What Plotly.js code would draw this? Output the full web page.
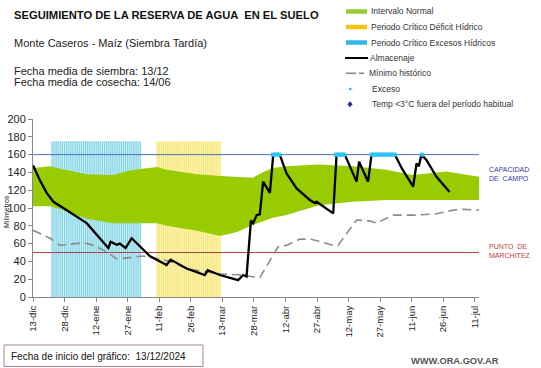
<!DOCTYPE html>
<html><head><meta charset="utf-8">
<script src="https://cdn.plot.ly/plotly-3.0.1.min.js"></script>
<style>html,body{margin:0;padding:0;background:#fff}#chart{width:541px;height:368px}</style>
</head><body><div id="chart"></div>
<script>
// ---------- DATA ----------
const startDate = '2024-12-13';
const endDate = '2025-07-13';
const tickLabels = ['13-dic','28-dic','12-ene','27-ene','11-feb','26-feb','13-mar','28-mar','12-abr','27-abr','12-may','27-may','11-jun','26-jun','11-jul'];

// Intervalo normal (days since start)
const bandDays  = [0, 8, 14, 25.5, 38, 46, 52, 59, 63.5, 78, 89, 97, 104.5, 109, 114, 120.5, 136, 152, 168, 180.5, 196.5, 212];
const bandUpper = [145, 147, 143.5, 138, 137, 142, 144, 146, 143, 138, 136, 135, 134, 140, 145, 147, 149, 147, 143, 137, 141, 135];
const bandLower = [102, 102, 98, 88, 83, 83, 83, 83, 80, 74.5, 68.5, 73, 81, 85, 89, 92, 103, 107, 109, 109, 109, 109];

// Almacenaje
const almDays = [0, 1.5, 3.3, 6.5, 9.7, 14.4, 20, 25.5, 35.8, 36.9, 39.8, 41.3, 44, 46.9, 50.8, 55.5, 63.5, 65.4, 73, 81.7, 83, 88.8, 97.5, 99.9, 101.5, 103.6, 104.7, 106.3, 107.8, 109.4, 112.6, 114.2, 117.3, 120.5, 125.3, 131.6, 134, 134.8, 142.7, 144.3, 148.2, 153.8, 155, 159.3, 160.9, 172, 175.2, 180.7, 182.3, 183.4, 184.6, 187, 191.8, 198];
const almVals = [148, 140, 131, 117, 107, 100, 91, 83, 55, 62, 58.6, 60, 55, 66, 57, 46, 36, 42, 32, 24.7, 30, 24.7, 19, 24.7, 23, 86, 83, 92, 93, 129.6, 117, 160, 160, 139, 122, 109, 105.6, 107, 94, 160, 160, 129.6, 152, 129.6, 160, 160, 145, 124, 150, 147, 160, 154, 135, 118];

// Mínimo histórico
const minDays = [0, 8.1, 12.8, 19.2, 23.9, 28.7, 33.4, 39.8, 46.1, 52.4, 57.2, 65.1, 73, 80.9, 88.8, 97.5, 107.8, 116.5, 120.5, 126.8, 131.6, 136.3, 142.7, 145, 153.8, 160.1, 163.3, 171.2, 182.3, 191.8, 199.7, 204.4, 212];
const minVals = [75, 66, 58, 60, 61, 58, 53, 42.7, 44, 46, 44, 40, 32, 28.5, 26, 25, 21.7, 56.5, 58, 65, 65, 62.5, 58, 58, 86.5, 85.5, 83, 92, 92, 93.6, 97.6, 98.5, 97.6];

// Exceso
const excDays = [114, 115, 116, 117, 144, 145, 146, 147, 148, 161, 162, 163, 164, 165, 166, 167, 168, 169, 170, 171, 172, 185];
const excVals = [160, 160, 160, 160, 160, 160, 160, 160, 160, 160, 160, 160, 160, 160, 160, 160, 160, 160, 160, 160, 160, 160];

// Periodos críticos (first and last day, days since start) and bar height
const critExcFirst = 9, critExcLast = 51;
const critDefFirst = 59, critDefLast = 89;
const critHeight = 175;

// Umbrales
const capacidadCampo = 160;
const puntoMarchitez = 50;

// ---------- HELPERS ----------
const DAY = 86400000;
const t0 = Date.UTC(2024, 11, 13);
function d2s(d) { return new Date(t0 + d * DAY).toISOString().slice(0, 19).replace('T', ' '); }
const toDates = a => a.map(d2s);
const tickVals = tickLabels.map((_, i) => d2s(i * 15));
function periodDays(a, b) { const r = []; for (let d = a; d <= b; d++) r.push(d); return r; }
const excPeriod = periodDays(critExcFirst, critExcLast);
const defPeriod = periodDays(critDefFirst, critDefLast);
// pixel -> paper (plot area: x 33..479, y 119..297)
const L = 33, R = 479, T = 119, B = 297;
const px = x => (x - L) / (R - L);
const py = y => (B - y) / (B - T);
const FONT = 'Liberation Sans, Arial, sans-serif';

function periodTraces(days, bg, fg) {
  return [
    {type: 'bar', x: [d2s((days[0] + days[days.length - 1]) / 2)], y: [critHeight],
     width: [(days.length - 0.4) * DAY], marker: {color: bg, line: {width: 0}}, showlegend: false},
    {type: 'bar', x: toDates(days), y: days.map(() => critHeight), width: DAY * 0.55,
     marker: {color: fg, line: {width: 0}}, showlegend: false}
  ];
}

// ---------- TRACES ----------
const traces = [
  {x: toDates(bandDays), y: bandLower, mode: 'lines', line: {width: 0, color: '#99cc00'}, hoverinfo: 'skip', showlegend: false},
  {x: toDates(bandDays), y: bandUpper, mode: 'lines', line: {width: 0, color: '#99cc00'}, fill: 'tonexty', fillcolor: '#99cc00', hoverinfo: 'skip', showlegend: false},
  ...periodTraces(excPeriod, 'rgba(90,200,225,0.25)', 'rgba(40,185,215,0.5)'),
  ...periodTraces(defPeriod, 'rgba(245,225,60,0.3)', 'rgba(240,210,0,0.42)'),
  {x: [startDate, endDate], y: [capacidadCampo, capacidadCampo], mode: 'lines', line: {color: '#4f6fb8', width: 1}, showlegend: false},
  {x: [startDate, endDate], y: [puntoMarchitez, puntoMarchitez], mode: 'lines', line: {color: '#b04444', width: 1}, showlegend: false},
  {x: toDates(minDays), y: minVals, mode: 'lines', line: {color: '#8c8c8c', width: 1.6, dash: '9px,5px'}, showlegend: false},
  {x: toDates(almDays), y: almVals, mode: 'lines', line: {color: '#000', width: 2.3}, showlegend: false},
  {x: toDates(excDays), y: excVals, mode: 'markers', marker: {color: '#2ec5ee', size: 4, symbol: 'square'}, showlegend: false}
];

// ---------- LAYOUT ----------
const ann = [];
const shp = [];
function txt(x, y, text, size, color, opts) {
  ann.push(Object.assign({xref: 'paper', yref: 'paper', x: px(x), y: py(y), text: text, showarrow: false,
    xanchor: 'left', yanchor: 'middle', font: {family: FONT, size: size, color: color}}, opts || {}));
}
txt(12, 15, '<b>SEGUIMIENTO DE LA RESERVA DE AGUA  EN EL SUELO</b>', 11.2, '#111');
txt(12, 43, 'Monte Caseros - Maíz (Siembra Tardía)', 11, '#222');
txt(12, 71, 'Fecha media de siembra: 13/12', 11, '#222');
txt(12, 82, 'Fecha media de cosecha: 14/06', 11, '#222');

// legend
const legItems = [
  {y: 11.5, label: 'Intervalo Normal', kind: 'bar', color: '#99cc33'},
  {y: 27, label: 'Periodo Crítico Déficit Hídrico', kind: 'bar', color: '#f7c40f'},
  {y: 42.5, label: 'Periodo Crítico Excesos Hídricos', kind: 'bar', color: '#2fb6e8'},
  {y: 58, label: 'Almacenaje', kind: 'line'},
  {y: 73.3, label: 'Mínimo histórico', kind: 'dash'},
  {y: 89, label: 'Exceso', kind: 'dot'},
  {y: 104.3, label: 'Temp <3°C fuera del período habitual', kind: 'diamond'}
];
legItems.forEach(it => {
  let tx = 369;
  if (it.kind === 'bar') {
    shp.push({type: 'line', xref: 'paper', yref: 'paper', x0: px(346), x1: px(367), y0: py(it.y), y1: py(it.y), line: {color: it.color, width: 4.5}});
  } else if (it.kind === 'line') {
    shp.push({type: 'line', xref: 'paper', yref: 'paper', x0: px(345), x1: px(368), y0: py(it.y), y1: py(it.y), line: {color: '#000', width: 2}});
    tx = 368;
  } else if (it.kind === 'dash') {
    shp.push({type: 'line', xref: 'paper', yref: 'paper', x0: px(346), x1: px(356), y0: py(it.y), y1: py(it.y), line: {color: '#888', width: 1.6}});
    shp.push({type: 'line', xref: 'paper', yref: 'paper', x0: px(359), x1: px(364), y0: py(it.y), y1: py(it.y), line: {color: '#888', width: 1.6}});
    tx = 367;
  } else if (it.kind === 'dot') {
    shp.push({type: 'rect', xref: 'paper', yref: 'paper', x0: px(349), x1: px(351.5), y0: py(it.y - 1.2), y1: py(it.y + 1.2), line: {width: 0}, fillcolor: '#2ec5ee'});
    tx = 370;
  } else {
    const cx = px(350), cy = py(it.y), dx = 2.6 / (R - L), dy = 3 / (B - T);
    shp.push({type: 'path', xref: 'paper', yref: 'paper', path: `M ${cx},${cy + dy} L ${cx + dx},${cy} L ${cx},${cy - dy} L ${cx - dx},${cy} Z`, line: {width: 0}, fillcolor: '#1f2fa0'});
    tx = 370;
  }
  txt(tx, it.y, it.label, 8.5, '#333');
});

// right labels
txt(487, 173.5, 'CAPACIDAD<br>DE  CAMPO', 7, '#3a3aa8', {align: 'left'});
txt(487, 251, 'PUNTO  DE<br>MARCHITEZ', 7, '#c04040', {align: 'left'});
// y title
ann.push({xref: 'paper', yref: 'paper', x: px(6), y: py(212), text: 'Milímetros', textangle: -90, showarrow: false,
  xanchor: 'center', yanchor: 'middle', font: {family: FONT, size: 7, color: '#222'}});
// bottom box
shp.push({type: 'rect', xref: 'paper', yref: 'paper', x0: px(4), x1: px(203), y0: py(345), y1: py(366.5), line: {color: '#a08a8a', width: 1}, fillcolor: 'rgba(0,0,0,0)'});
txt(9, 356.5, 'Fecha de inicio del gráfico:  13/12/2024', 10, '#111');
txt(409, 361, '<b>WWW.ORA.GOV.AR</b>', 9.3, '#555');

const layout = {
  width: 541, height: 368,
  margin: {l: L, r: 541 - R, t: T, b: 368 - B, pad: 0},
  paper_bgcolor: '#fff', plot_bgcolor: '#fff',
  showlegend: false, barmode: 'overlay',
  font: {family: FONT},
  xaxis: {type: 'date', range: [startDate, endDate], tickmode: 'array', tickvals: tickVals, ticktext: tickLabels,
    tickangle: -90, ticks: 'outside', ticklen: 4, tickcolor: '#888', showline: true, linecolor: '#888', linewidth: 1,
    showgrid: false, zeroline: false, tickfont: {family: FONT, size: 9.5, color: '#222'}, fixedrange: true},
  yaxis: {range: [0, 200], tick0: 0, dtick: 20, ticks: 'outside', ticklen: 4, tickcolor: '#888', showline: true,
    linecolor: '#888', linewidth: 1, showgrid: false, zeroline: false, tickfont: {family: FONT, size: 11, color: '#222'}, fixedrange: true},
  annotations: ann, shapes: shp
};
Plotly.newPlot('chart', traces, layout, {displayModeBar: false, staticPlot: true});
</script></body></html>
